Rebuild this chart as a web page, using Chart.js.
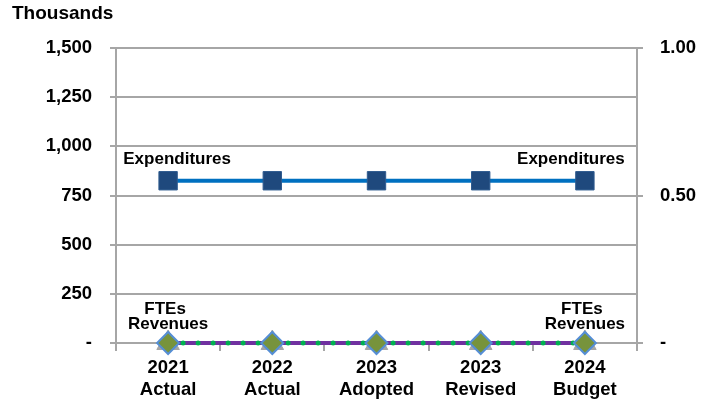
<!DOCTYPE html>
<html lang="en">
  <head>
    <meta charset="UTF-8" />
    <title>Expenditures, Revenues and FTEs</title>
    <script src="https://cdn.jsdelivr.net/npm/chart.js"></script>
    <style>
      body { margin: 0; background: #fff; }
    </style>
  </head>
  <body>
    <div style="width: 710px; height: 403px">
      <canvas id="chart" width="710" height="403"></canvas>
    </div>
    <script>
      const categories = [
        ["2021", "Actual"],
        ["2022", "Actual"],
        ["2023", "Adopted"],
        ["2023", "Revised"],
        ["2024", "Budget"],
      ];
      const expenditures = [825, 825, 825, 825, 825];
      const revenues = [0, 0, 0, 0, 0];
      const ftes = [0, 0, 0, 0, 0];

      const leftTicks = [0, 250, 500, 750, 1000, 1250, 1500];
      const rightTicks = [0, 0.5, 1];

      const FONT = '"Liberation Sans", Arial, sans-serif';
      const GRID = "#a6a6a6";

      Chart.defaults.font.family = FONT;
      Chart.defaults.font.weight = "bold";
      Chart.defaults.font.size = 18;
      Chart.defaults.color = "#000";

      // point labels the way the spreadsheet placed them
      const pointLabels = {
        id: "pointLabels",
        afterDatasetsDraw(chart) {
          const ctx = chart.ctx;
          const exp = chart.getDatasetMeta(0).data;
          const low = chart.getDatasetMeta(1).data;
          ctx.save();
          ctx.font = "bold 17px " + FONT;
          ctx.fillStyle = "#000";
          ctx.textAlign = "center";
          ctx.textBaseline = "middle";
          ctx.fillText("Expenditures", exp[0].x + 9, exp[0].y - 21);
          ctx.fillText("Expenditures", exp[4].x - 14, exp[4].y - 21);
          [0, 4].forEach((i) => {
            ctx.fillText("FTEs", low[i].x - 3, low[i].y - 34);
            ctx.fillText("Revenues", low[i].x, low[i].y - 19);
          });
          ctx.restore();
        },
      };

      const unitTitle = {
        id: "unitTitle",
        afterDraw(chart) {
          const ctx = chart.ctx;
          ctx.save();
          ctx.font = "bold 19px " + FONT;
          ctx.fillStyle = "#000";
          ctx.textBaseline = "middle";
          ctx.fillText("Thousands", 12, 14);
          ctx.restore();
        },
      };

      new Chart(document.getElementById("chart"), {
        type: "line",
        data: {
          labels: categories,
          datasets: [
            {
              label: "Expenditures",
              data: expenditures,
              yAxisID: "y",
              clip: false,
              borderColor: "#0070c0",
              borderWidth: 4,
              pointStyle: "rect",
              pointRadius: 13,
              pointBackgroundColor: "#1f497d",
              pointBorderColor: "#2f5b8f",
              pointBorderWidth: 1,
            },
            {
              label: "FTEs",
              data: ftes,
              yAxisID: "y1",
              clip: false,
              borderColor: "#00b050",
              borderWidth: 5,
              borderDash: [0, 15],
              borderCapStyle: "round",
              pointStyle: "rectRot",
              pointRadius: 11,
              pointBackgroundColor: "#77933c",
              pointBorderColor: "#558ed5",
              pointBorderWidth: 2,
            },
            {
              label: "Revenues",
              data: revenues,
              yAxisID: "y",
              clip: false,
              borderColor: "#7030a0",
              borderWidth: 4,
              pointStyle: "triangle",
              pointRadius: 13,
              pointBackgroundColor: "#a6a6a6",
              pointBorderColor: "#a6a6a6",
              pointBorderWidth: 1,
            },
          ],
        },
        options: {
          responsive: false,
          animation: false,
          layout: { padding: { top: 48, left: 0, right: 0, bottom: 0 } },
          plugins: {
            legend: { display: false },
            tooltip: { enabled: false },
          },
          scales: {
            x: {
              offset: true,
              grid: {
                offset: true,
                drawOnChartArea: false,
                color: GRID,
                lineWidth: 2,
                tickLength: 8,
              },
              border: { color: GRID, width: 2 },
              ticks: {
                padding: 6,
                maxRotation: 0,
                font: { size: 18.5, lineHeight: "22px" },
              },
              afterFit(scale) { scale.height = 60; },
            },
            y: {
              position: "left",
              min: 0,
              max: 1500,
              afterBuildTicks(scale) {
                scale.ticks = leftTicks.map((v) => ({ value: v }));
              },
              grid: { color: GRID, lineWidth: 2, tickLength: 6 },
              border: { color: GRID, width: 2 },
              ticks: {
                padding: 18,
                font: { size: 18.5 },
                callback: (v) => (v === 0 ? "-" : v.toLocaleString("en-US")),
              },
              afterFit(scale) { scale.width = 116; },
            },
            y1: {
              position: "right",
              min: 0,
              max: 1,
              afterBuildTicks(scale) {
                scale.ticks = rightTicks.map((v) => ({ value: v }));
              },
              grid: { drawOnChartArea: false, color: GRID, lineWidth: 2, tickLength: 6 },
              border: { color: GRID, width: 2 },
              ticks: {
                padding: 17,
                font: { size: 18.5 },
                callback: (v) => (v === 0 ? "-" : v.toFixed(2)),
              },
              afterFit(scale) { scale.width = 73; },
            },
          },
        },
        plugins: [pointLabels, unitTitle],
      });
    </script>
  </body>
</html>
